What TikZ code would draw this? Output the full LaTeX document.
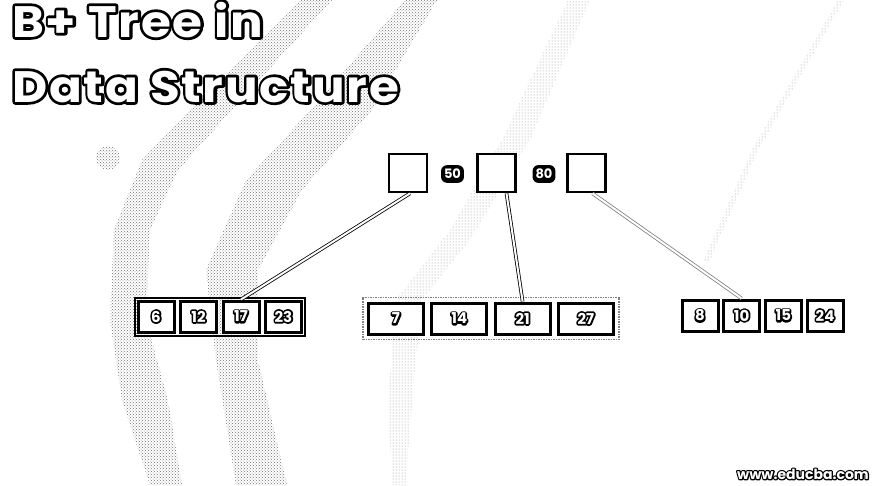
\documentclass[tikz,border=0pt]{standalone}
\usepackage{fontspec}
\setmainfont{Poppins}
\newfontfamily\titlefont{Poppins}[FakeStretch=1.1,LetterSpace=4]
\usetikzlibrary{positioning,fit,patterns,calc}
% white letters with a black rim: a stroked copy under a white one
\newcommand{\outlined}[2][3]{\leavevmode
  \rlap{\special{pdf:literal direct 2 Tr #1 w 1 j}#2\special{pdf:literal direct 0 Tr}}%
  \textcolor{white}{#2}}

\begin{document}
\begin{tikzpicture}[x=1pt,y=-1pt,
    slot/.style={draw,fill=white,line width=2.8pt,minimum size=38pt,inner sep=0pt},
    keybadge/.style={fill=black,text=white,rounded corners=6pt,inner xsep=3pt,inner ysep=4pt,
                     font=\bfseries\fontsize{13}{13}\selectfont},
    leaf/.style={draw,fill=white,line width=3pt,minimum width=36pt,minimum height=31pt,
                 inner sep=0pt,font=\bfseries\fontsize{15}{15}\selectfont},
    wideleaf/.style={leaf,minimum width=55pt},
    frame/.style={draw,line width=2pt,inner sep=2pt},
    dotframe/.style={draw,gray,densely dotted,line width=1.5pt,inner sep=4pt},
    link/.style={double,double distance=2pt,line width=0.8pt},
    texture/.style={pattern=crosshatch dots,pattern color=black!55},
    sparse/.style={pattern=dots,pattern color=black!45},
  ]
  \useasboundingbox (0,0) rectangle (876,485);

  % ---------------------------------------------------------------- backdrop
  \fill[texture] (300,0) -- (332,0) -- (232,110) -- (178,170) -- (150,230) -- (146,320)
    -- (168,400) -- (182,485) -- (150,485) -- (122,400) -- (110,320) -- (114,230)
    -- (142,160) -- (200,100) -- cycle;
  \fill[texture] (405,0) -- (437,0) -- (372,110) -- (302,190) -- (258,270) -- (258,360)
    -- (287,485) -- (236,485) -- (216,360) -- (206,270) -- (246,180) -- (320,100) -- cycle;
  \fill[texture] (108,158) circle (12);
  \fill[sparse] (568,0) -- (590,0) -- (530,140) -- (470,240) -- (422,300) -- (412,400)
    -- (406,485) -- (392,485) -- (388,400) -- (396,300) -- (450,230) -- (502,140) -- cycle;
  \fill[sparse] (838,0) -- (844,0) -- (758,150) -- (710,260) -- (703,262) -- (752,150) -- cycle;

  % ---------------------------------------------------------------- title
  \node[anchor=base west,inner sep=0pt,font=\titlefont\bfseries\fontsize{44}{44}\selectfont]
    (title1) at (12,37) {\outlined[5.5]{B+ Tree in}};
  \node[anchor=base west,inner sep=0pt,font=\titlefont\bfseries\fontsize{44}{44}\selectfont]
    (title2) at (12,102) {\outlined[5.5]{Data Structure}};

  % ---------------------------------------------------------------- root
  \node[slot] (r1) at (408,173) {};
  \node[slot] (r2) at (496.5,173) {};
  \node[slot] (r3) at (586.5,173) {};
  \node[keybadge] (k50) at (452.5,174) {50};
  \node[keybadge] (k80) at (544,174) {80};

  % ---------------------------------------------------------------- leaves
  \foreach \v [count=\i] in {6,12,17,23}
    \node[leaf] (a\i) at ({156+42.5*(\i-1)},316.5) {\outlined[3.5]{\v}};
  \foreach \v [count=\i] in {7,14,21,27}
    \node[wideleaf] (b\i) at ({396+63.3*(\i-1)},318.5) {\outlined[3.5]{\v}};
  \foreach \v [count=\i] in {8,10,15,24}
    \node[leaf] (c\i) at ({700+41.7*(\i-1)},315.5) {\outlined[3.5]{\v}};

  \node[frame,fit=(a1)(a4)] (ga) {};
  \node[dotframe,fit=(b1)(b4)] (gb) {};

  % ---------------------------------------------------------------- pointers
  \draw[link] ([xshift=2pt]r1.south) -- (a3.north);
  \draw[link] ([xshift=10pt]r2.south) -- (b3.north);
  \draw[link,gray] ([xshift=6pt]r3.south) -- (c2.north);

  % ---------------------------------------------------------------- watermark
  \node[font=\bfseries\fontsize{14}{14}\selectfont] (web) at (803,474)
    {\outlined[2.5]{www.educba.com}};
\end{tikzpicture}
\end{document}
